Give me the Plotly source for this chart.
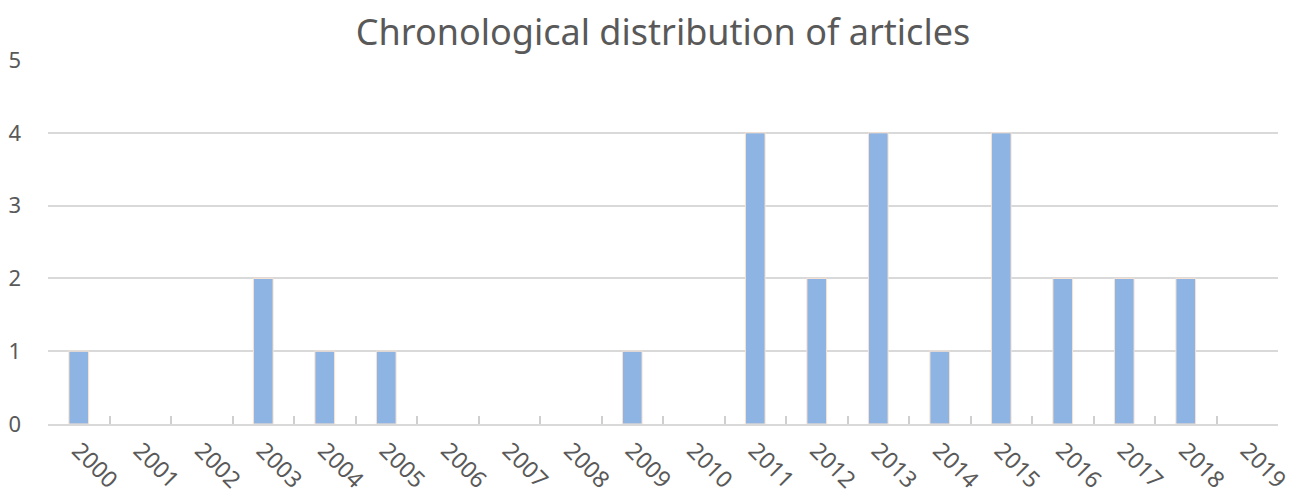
import plotly.graph_objects as go

years = [str(y) for y in range(2000, 2020)]
articles = [1, 0, 0, 2, 1, 1, 0, 0, 0, 1, 0, 4, 2, 4, 1, 4, 2, 2, 2, 0]

fig = go.Figure()
fig.add_trace(go.Bar(
    x=years, y=articles,
    width=0.32,
    marker=dict(color="#8DB4E2",
                line=dict(color="#FBE3D0", width=[1 if v > 0 else 0 for v in articles])),
))

# page body has an 8px offset, margins compensate for it
fig.update_layout(
    width=1315, height=496,
    margin=dict(l=40, r=45, t=52, b=80, autoexpand=False),
    paper_bgcolor="white", plot_bgcolor="white",
    font=dict(family="Noto Sans, Liberation Sans, sans-serif", color="#595959", size=20),
    title=dict(text="Chronological distribution of articles", x=0.5, xanchor="center",
               xref="paper", y=0.95, yanchor="middle",
               font=dict(size=36, color="#595959")),
    showlegend=False,
)
fig.update_xaxes(
    type="category", tickangle=45, tickson="boundaries",
    ticks="inside", ticklen=8, tickcolor="#CFCFCF", tickwidth=1.5,
    showline=True, linecolor="#D9D9D9", linewidth=2,
    showgrid=False, automargin=False, ticklabelstandoff=2,
    tickfont=dict(size=23, color="#595959"),
)
fig.update_yaxes(
    range=[0, 5], dtick=1, showgrid=True, gridcolor="#D9D9D9", gridwidth=1.5,
    zeroline=False, showline=False, ticks="", ticklabelstandoff=26,
    automargin=False, tickfont=dict(size=22, color="#595959"),
)

fig.write_html("out.html")
